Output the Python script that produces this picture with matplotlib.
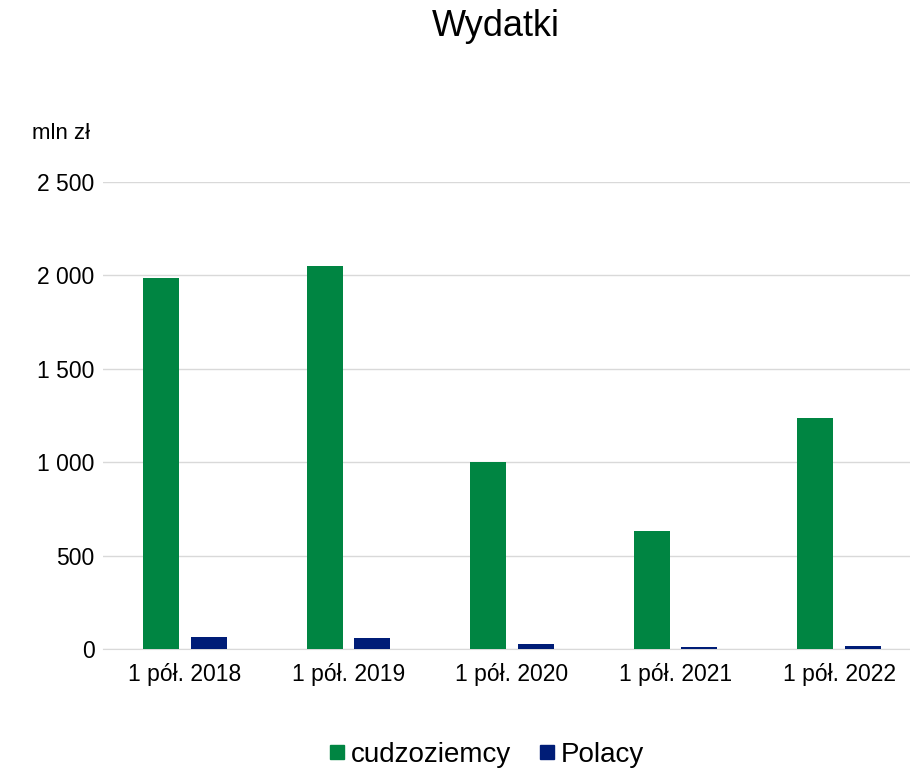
import numpy as np
import matplotlib.pyplot as plt
from matplotlib.lines import Line2D

plt.rcParams['font.family'] = ['Liberation Sans', 'DejaVu Sans']

categories = ['1 pół. 2018', '1 pół. 2019', '1 pół. 2020', '1 pół. 2021', '1 pół. 2022']
cudzoziemcy = [1985, 2050, 1001, 632, 1237]
polacy = [63, 57, 25, 9, 14]
series_names = ['cudzoziemcy', 'Polacy']
colors = ['#008542', '#001D77']

fig = plt.figure(figsize=(9.1, 7.7), dpi=100)
ax = fig.add_axes([103 / 910, 1 - 649 / 770, 818 / 910, 467 / 770])

x = np.arange(len(categories))
w = 0.22
ax.bar(x - 0.145, cudzoziemcy, w, color=colors[0], zorder=3)
ax.bar(x + 0.145, polacy, w, color=colors[1], zorder=3)

ax.set_xlim(-0.5, len(categories) - 0.5)
ax.set_ylim(0, 2500)
ax.set_yticks(np.arange(0, 2501, 500))
ax.set_yticklabels(['0', '500', '1 000', '1 500', '2 000', '2 500'])
ax.set_xticks(x)
ax.set_xticklabels(categories)
ax.tick_params(length=0, labelsize=16.5, colors='black')
ax.tick_params(axis='y', pad=6)
ax.tick_params(axis='x', pad=10)
ax.yaxis.grid(True, color='#D9D9D9', linewidth=1)
ax.set_axisbelow(True)
for s in ['top', 'right', 'left']:
    ax.spines[s].set_visible(False)
ax.spines['bottom'].set_color('#D9D9D9')

fig.text(0.545, 0.965, 'Wydatki', ha='center', va='center', fontsize=26)
fig.text(0.067, 0.827, 'mln zł', ha='center', va='center', fontsize=16)

handles = [Line2D([], [], marker='s', linestyle='', markersize=10, color=c) for c in colors]
fig.legend(handles, series_names, loc='center', bbox_to_anchor=(485 / 910, 1 - 755 / 770),
           ncol=2, frameon=False, fontsize=20, handletextpad=0.1, columnspacing=0.9,
           handlelength=0.8)

plt.savefig('out.png')
